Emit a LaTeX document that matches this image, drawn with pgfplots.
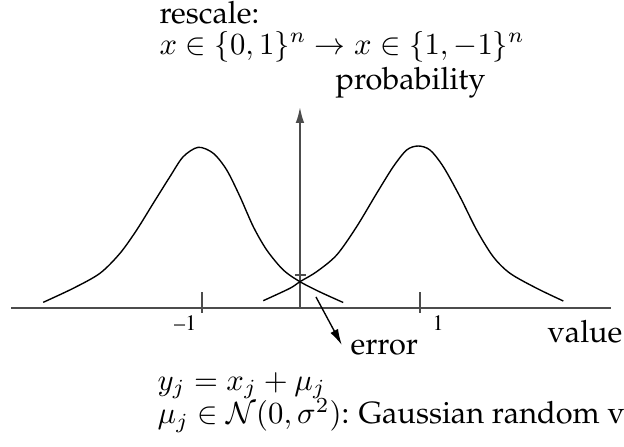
\documentclass[border=0pt]{standalone}
\usepackage[T1]{fontenc}
\renewcommand{\rmdefault}{ppl}
\usepackage{pgfplots}
\pgfplotsset{compat=1.18}
\usetikzlibrary{arrows.meta}

% Received value distributions for the two transmitted symbols
\pgfplotstableread{
x      y
-2.456 0.057
-2.181 0.197
-1.936 0.347
-1.752 0.547
-1.599 0.780
-1.447 1.047
-1.294 1.313
-1.172 1.513
-1.034 1.607
-0.896 1.547
-0.773 1.380
-0.651 1.113
-0.529 0.813
-0.406 0.580
-0.254 0.380
-0.101 0.263
 0.083 0.160
 0.296 0.055
}\leftcurve
\pgfplotstableread{
x      y
-0.438 0.073
-0.193 0.197
-0.101 0.263
 0.052 0.363
 0.236 0.530
 0.419 0.813
 0.603 1.147
 0.755 1.413
 0.878 1.580
 0.984 1.620
 1.092 1.580
 1.214 1.413
 1.367 1.113
 1.520 0.780
 1.672 0.513
 1.826 0.347
 2.071 0.197
 2.315 0.070
}\rightcurve

\begin{document}
\begin{tikzpicture}[>={Latex[length=5.2pt,width=2.8pt]}]
\begin{axis}[
  scale only axis,
  width=203.26pt, height=145.6pt,
  xmin=-2.853, xmax=2.872,
  ymin=-1.39, ymax=3.08,
  hide axis, clip=false,
]
\coordinate (bl) at (rel axis cs:0,0);
\coordinate (tr) at (rel axis cs:1,1);

% value axis, probability axis and ticks
\draw[black!70, line width=0.6pt] (axis cs:-2.752,0) -- (axis cs:2.752,0);
\draw[black!70, line width=0.6pt, ->]
  (axis cs:-0.101,0) -- (axis cs:-0.101,2.01);
\draw[black!70, line width=0.6pt] (axis cs:-1,0.16) -- (axis cs:-1,-0.05);
\draw[black!70, line width=0.6pt] (axis cs:1,0.16) -- (axis cs:1,-0.05);
\draw[black!70, line width=0.6pt] (axis cs:-0.147,0.33) -- (axis cs:-0.046,0.33);

\addplot[black, line width=0.45pt, smooth] table[x=x,y=y] {\leftcurve};
\addplot[black, line width=0.45pt, smooth] table[x=x,y=y] {\rightcurve};

% error arrow
\draw[black, line width=0.45pt, ->]
  (axis cs:0.046,0.11) -- (axis cs:0.283,-0.37);

% tick labels
\node[anchor=base east, inner sep=0pt, font=\fontfamily{ptm}\fontsize{7.2}{8}\selectfont]
  at (axis cs:-1.046,-0.22) {--1};
\node[anchor=base west, inner sep=0pt, font=\fontfamily{ptm}\fontsize{7.2}{8}\selectfont]
  at (axis cs:1.11,-0.22) {1};

% annotations
\node[anchor=base west, inner sep=0pt] at (axis cs:-1.394,2.847) {rescale:};
\node[anchor=base west, inner sep=0pt] at (axis cs:-1.394,2.54)
  {$x\in\{0,1\}^n\rightarrow x\in\{1,-1\}^n$};
\node[anchor=base west, inner sep=0pt] at (axis cs:0.220,2.19) {probability};
\node[anchor=base west, inner sep=0pt] at (axis cs:2.165,-0.34) {value};
\node[anchor=base west, inner sep=0pt] at (axis cs:0.358,-0.47) {error};
\node[anchor=base west, inner sep=0pt] at (axis cs:-1.413,-0.82) {$y_j=x_j+\mu_j$};
\node[anchor=base west, inner sep=0pt] at (axis cs:-1.413,-1.155)
  {$\mu_j\in\mathcal{N}(0,\sigma^2)$: Gaussian random variable};
\end{axis}
\pgfresetboundingbox
\path[use as bounding box] (bl) rectangle (tr);
\end{tikzpicture}
\end{document}
